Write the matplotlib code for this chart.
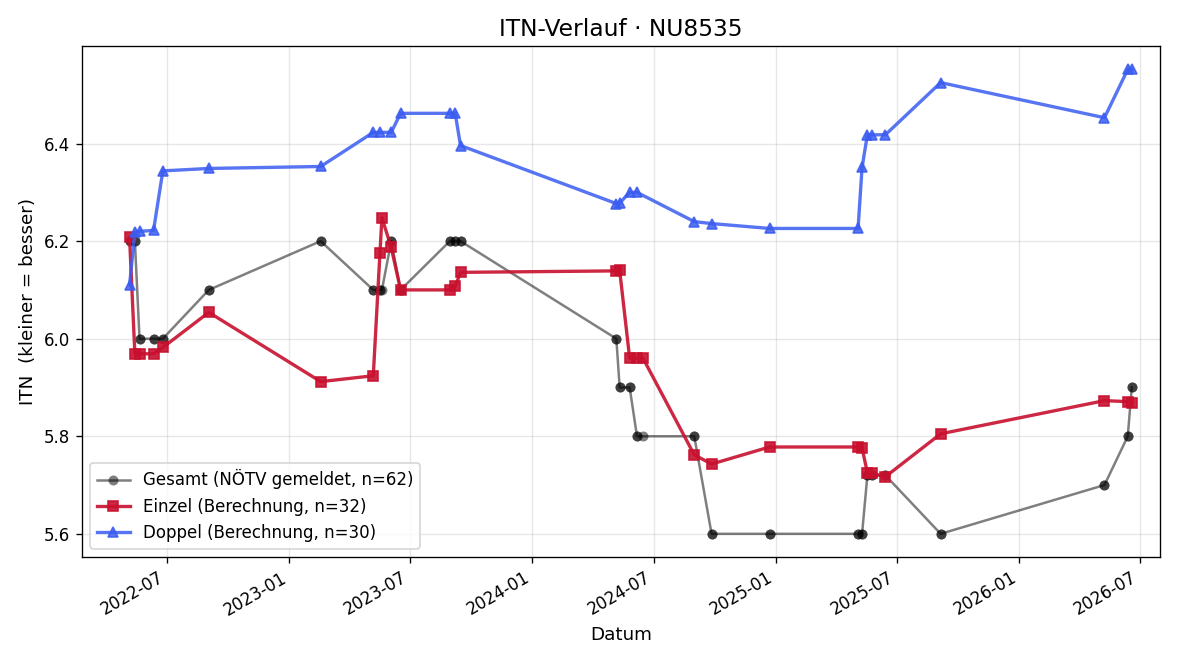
import matplotlib
matplotlib.use("Agg")
import matplotlib.pyplot as plt
import matplotlib.dates as mdates
import pandas as pd

# ---- data ----
einzel_dates = ["2022-05-06", "2022-05-14", "2022-05-21", "2022-06-11", "2022-06-25",
                "2022-09-02", "2023-02-17", "2023-05-07", "2023-05-17", "2023-05-20",
                "2023-06-03", "2023-06-17", "2023-08-30", "2023-09-07", "2023-09-15",
                "2024-05-06", "2024-05-11", "2024-05-26", "2024-06-06", "2024-06-15",
                "2024-08-31", "2024-09-26", "2024-12-22", "2025-05-04", "2025-05-10",
                "2025-05-18", "2025-05-25", "2025-06-14", "2025-09-05", "2026-05-09",
                "2026-06-13", "2026-06-19"]
einzel_values = [6.208, 5.969, 5.969, 5.969, 5.982,
                 6.054, 5.912, 5.924, 6.175, 6.248,
                 6.187, 6.100, 6.100, 6.107, 6.136,
                 6.139, 6.140, 5.960, 5.960, 5.960,
                 5.762, 5.743, 5.778, 5.778, 5.776,
                 5.725, 5.724, 5.717, 5.805, 5.873,
                 5.871, 5.869]

doppel_dates = ["2022-05-06", "2022-05-14", "2022-05-21", "2022-06-11", "2022-06-25",
                "2022-09-02", "2023-02-17", "2023-05-07", "2023-05-17", "2023-06-03",
                "2023-06-17", "2023-08-30", "2023-09-07", "2023-09-15", "2024-05-06",
                "2024-05-11", "2024-05-26", "2024-06-06", "2024-08-31", "2024-09-26",
                "2024-12-22", "2025-05-04", "2025-05-10", "2025-05-18", "2025-05-25",
                "2025-06-14", "2025-09-05", "2026-05-09", "2026-06-13", "2026-06-19"]
doppel_values = [6.110, 6.218, 6.220, 6.222, 6.344,
                 6.349, 6.353, 6.423, 6.423, 6.423,
                 6.462, 6.462, 6.462, 6.396, 6.277,
                 6.278, 6.300, 6.300, 6.240, 6.236,
                 6.226, 6.226, 6.351, 6.418, 6.418,
                 6.418, 6.525, 6.453, 6.552, 6.552]

gesamt_dates = ["2022-05-06", "2022-05-06", "2022-05-14", "2022-05-14", "2022-05-21",
                "2022-05-21", "2022-06-11", "2022-06-11", "2022-06-25", "2022-06-25",
                "2022-09-02", "2022-09-02", "2023-02-17", "2023-02-17", "2023-05-07",
                "2023-05-07", "2023-05-17", "2023-05-17", "2023-05-20", "2023-06-03",
                "2023-06-03", "2023-06-17", "2023-06-17", "2023-08-30", "2023-08-30",
                "2023-09-07", "2023-09-07", "2023-09-15", "2023-09-15", "2024-05-06",
                "2024-05-06", "2024-05-11", "2024-05-11", "2024-05-26", "2024-05-26",
                "2024-06-06", "2024-06-06", "2024-06-15", "2024-08-31", "2024-08-31",
                "2024-09-26", "2024-09-26", "2024-12-22", "2024-12-22", "2025-05-04",
                "2025-05-04", "2025-05-10", "2025-05-10", "2025-05-18", "2025-05-18",
                "2025-05-25", "2025-05-25", "2025-06-14", "2025-06-14", "2025-09-05",
                "2025-09-05", "2026-05-09", "2026-05-09", "2026-06-13", "2026-06-13",
                "2026-06-19", "2026-06-19"]
gesamt_values = [6.2, 6.2, 6.2, 6.2, 6.0,
                 6.0, 6.0, 6.0, 6.0, 6.0,
                 6.1, 6.1, 6.2, 6.2, 6.1,
                 6.1, 6.1, 6.1, 6.1, 6.2,
                 6.2, 6.1, 6.1, 6.2, 6.2,
                 6.2, 6.2, 6.2, 6.2, 6.0,
                 6.0, 5.9, 5.9, 5.9, 5.9,
                 5.8, 5.8, 5.8, 5.8, 5.8,
                 5.6, 5.6, 5.6, 5.6, 5.6,
                 5.6, 5.6, 5.6, 5.72, 5.72,
                 5.72, 5.72, 5.72, 5.72, 5.6,
                 5.6, 5.7, 5.7, 5.8, 5.8,
                 5.9, 5.9]

x_start = "2022-02-23"
x_end = "2026-08-01"

# ---- plot ----
fig, ax = plt.subplots(figsize=(10, 5.5), dpi=120)

ax.plot(pd.to_datetime(gesamt_dates), gesamt_values, color="black", alpha=0.5,
        marker="o", markersize=6, markeredgewidth=0, linewidth=1.5,
        label="Gesamt (NÖTV gemeldet, n=62)")
ax.plot(pd.to_datetime(einzel_dates), einzel_values, color="#C8102E", alpha=0.9,
        marker="s", markersize=6, linewidth=2,
        label="Einzel (Berechnung, n=32)")
ax.plot(pd.to_datetime(doppel_dates), doppel_values, color="#3A5CF0", alpha=0.85,
        marker="^", markersize=6, linewidth=2,
        label="Doppel (Berechnung, n=30)")

ax.set_xlim(pd.Timestamp(x_start), pd.Timestamp(x_end))
ax.xaxis.set_major_locator(mdates.MonthLocator(bymonth=[1, 7]))
ax.xaxis.set_major_formatter(mdates.DateFormatter("%Y-%m"))

ax.set_title("ITN-Verlauf · NU8535", fontsize=14)
ax.set_xlabel("Datum", fontsize=11)
ax.set_ylabel("ITN  (kleiner = besser)", fontsize=11)
ax.grid(True, alpha=0.3)
ax.legend(loc="lower left", fontsize=10)

fig.autofmt_xdate()
fig.subplots_adjust(left=0.068, right=0.967, top=0.93, bottom=0.156)
fig.savefig("out.png", dpi=120)
